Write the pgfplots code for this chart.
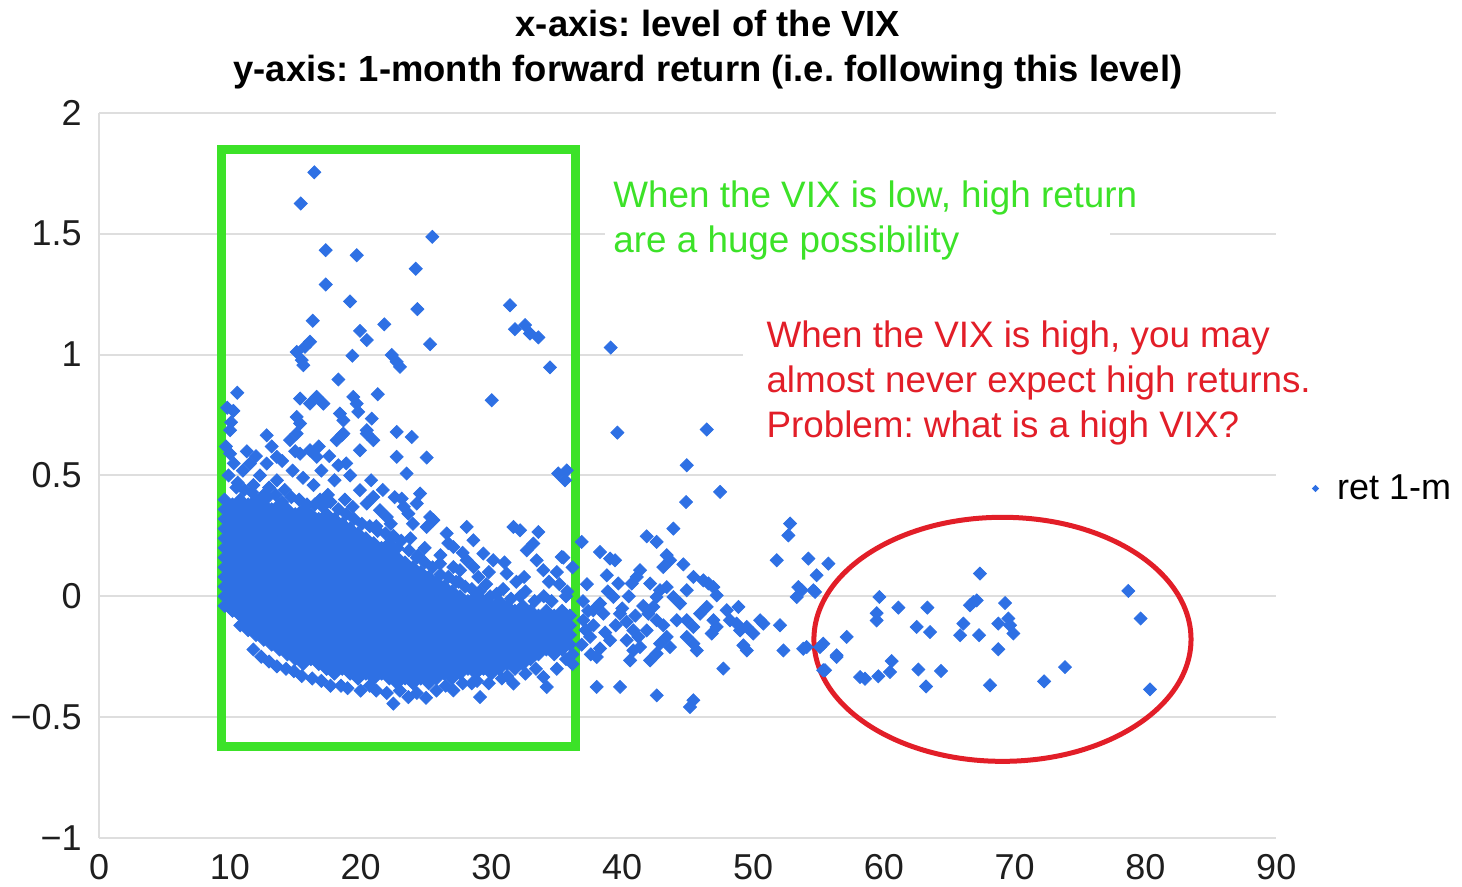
\documentclass[border=0pt]{standalone}
\usepackage{pgfplots}
\pgfplotsset{compat=1.18}
\usepackage{fontspec}
\setmainfont{Liberation Sans}
\frenchspacing
\definecolor{vixblue}{RGB}{46,112,228}
\definecolor{vixgreen}{RGB}{60,226,40}
\definecolor{vixred}{RGB}{226,30,40}
\definecolor{gridgray}{RGB}{222,222,222}
\definecolor{ticktext}{RGB}{30,30,30}
\begin{document}
\begin{tikzpicture}
\begin{axis}[
  scale only axis, width=588.5bp, height=362.5bp,
  xmin=0, xmax=90, ymin=-1, ymax=2,
  axis x line*=bottom, axis y line*=left,
  axis line style={draw=gridgray, line width=1bp, -},
  xtick={0,10,20,30,40,50,60,70,80,90},
  xticklabels={0,10,20,30,40,50,60,70,80,90},
  ytick={-1,-0.5,0,0.5,1,1.5,2},
  yticklabels={−1,−0.5,0,0.5,1,1.5,2},
  major tick length=0pt,
  ymajorgrids, grid style={draw=gridgray, line width=1bp},
  tick label style={font=\fontsize{18bp}{20bp}\selectfont, text=ticktext, inner sep=0pt},
  xticklabel style={yshift=-8bp},
  yticklabel style={xshift=-8.5bp},
  clip=false,
  legend style={at={(1.030,0.482)}, anchor=west, draw=none, fill=none,
    font=\fontsize{18bp}{20bp}\selectfont, inner sep=0pt,
    /tikz/every odd column/.append style={column sep=7bp}},
  legend image code/.code={\fill[vixblue, draw=none] (0,1.8bp)--(1.8bp,0)--(0,-1.8bp)--(-1.8bp,0)--cycle;},
]
% dense cloud
\addplot[only marks, mark=square*, mark size=2.3bp, mark options={rotate=45, fill=vixblue, draw=none}, color=vixblue] coordinates {
(9.6,-0.04)(9.6,0)(9.6,0.04)(9.6,0.08)(9.6,0.12)(9.6,0.16)(9.6,0.2)(9.6,0.24)(9.6,0.28)(9.6,0.32)(9.6,0.36)(9.6,0.4)
(10.2,-0.06)(10.2,-0.02)(10.2,0.02)(10.2,0.06)(10.2,0.1)(10.2,0.14)(10.2,0.18)(10.2,0.22)(10.2,0.26)(10.2,0.3)(10.2,0.34)(10.2,0.38)
(10.8,-0.12)(10.8,-0.08)(10.8,-0.04)(10.8,0)(10.8,0.04)(10.8,0.08)(10.8,0.12)(10.8,0.16)(10.8,0.2)(10.8,0.24)(10.8,0.28)(10.8,0.32)(10.8,0.36)(10.8,0.4)
(11.4,-0.14)(11.4,-0.1)(11.4,-0.06)(11.4,-0.02)(11.4,0.02)(11.4,0.06)(11.4,0.1)(11.4,0.14)(11.4,0.18)(11.4,0.22)(11.4,0.26)(11.4,0.3)(11.4,0.34)(11.4,0.38)
(12.0,-0.16)(12.0,-0.12)(12.0,-0.08)(12.0,-0.04)(12.0,0)(12.0,0.04)(12.0,0.08)(12.0,0.12)(12.0,0.16)(12.0,0.2)(12.0,0.24)(12.0,0.28)(12.0,0.32)(12.0,0.36)(12.0,0.4)
(12.6,-0.18)(12.6,-0.14)(12.6,-0.1)(12.6,-0.06)(12.6,-0.02)(12.6,0.02)(12.6,0.06)(12.6,0.1)(12.6,0.14)(12.6,0.18)(12.6,0.22)(12.6,0.26)(12.6,0.3)(12.6,0.34)(12.6,0.38)
(13.2,-0.2)(13.2,-0.16)(13.2,-0.12)(13.2,-0.08)(13.2,-0.04)(13.2,0)(13.2,0.04)(13.2,0.08)(13.2,0.12)(13.2,0.16)(13.2,0.2)(13.2,0.24)(13.2,0.28)(13.2,0.32)(13.2,0.36)
(13.8,-0.22)(13.8,-0.18)(13.8,-0.14)(13.8,-0.1)(13.8,-0.06)(13.8,-0.02)(13.8,0.02)(13.8,0.06)(13.8,0.1)(13.8,0.14)(13.8,0.18)(13.8,0.22)(13.8,0.26)(13.8,0.3)(13.8,0.34)(13.8,0.38)
(14.4,-0.24)(14.4,-0.2)(14.4,-0.16)(14.4,-0.12)(14.4,-0.08)(14.4,-0.04)(14.4,0)(14.4,0.04)(14.4,0.08)(14.4,0.12)(14.4,0.16)(14.4,0.2)(14.4,0.24)(14.4,0.28)(14.4,0.32)(14.4,0.36)
(15.0,-0.26)(15.0,-0.22)(15.0,-0.18)(15.0,-0.14)(15.0,-0.1)(15.0,-0.06)(15.0,-0.02)(15.0,0.02)(15.0,0.06)(15.0,0.1)(15.0,0.14)(15.0,0.18)(15.0,0.22)(15.0,0.26)(15.0,0.3)(15.0,0.34)
(15.6,-0.28)(15.6,-0.24)(15.6,-0.2)(15.6,-0.16)(15.6,-0.12)(15.6,-0.08)(15.6,-0.04)(15.6,0)(15.6,0.04)(15.6,0.08)(15.6,0.12)(15.6,0.16)(15.6,0.2)(15.6,0.24)(15.6,0.28)(15.6,0.32)(15.6,0.36)
(16.2,-0.26)(16.2,-0.22)(16.2,-0.18)(16.2,-0.14)(16.2,-0.1)(16.2,-0.06)(16.2,-0.02)(16.2,0.02)(16.2,0.06)(16.2,0.1)(16.2,0.14)(16.2,0.18)(16.2,0.22)(16.2,0.26)(16.2,0.3)(16.2,0.34)
(16.8,-0.28)(16.8,-0.24)(16.8,-0.2)(16.8,-0.16)(16.8,-0.12)(16.8,-0.08)(16.8,-0.04)(16.8,0)(16.8,0.04)(16.8,0.08)(16.8,0.12)(16.8,0.16)(16.8,0.2)(16.8,0.24)(16.8,0.28)(16.8,0.32)
(17.4,-0.3)(17.4,-0.26)(17.4,-0.22)(17.4,-0.18)(17.4,-0.14)(17.4,-0.1)(17.4,-0.06)(17.4,-0.02)(17.4,0.02)(17.4,0.06)(17.4,0.1)(17.4,0.14)(17.4,0.18)(17.4,0.22)(17.4,0.26)(17.4,0.3)(17.4,0.34)
(18.0,-0.32)(18.0,-0.28)(18.0,-0.24)(18.0,-0.2)(18.0,-0.16)(18.0,-0.12)(18.0,-0.08)(18.0,-0.04)(18.0,0)(18.0,0.04)(18.0,0.08)(18.0,0.12)(18.0,0.16)(18.0,0.2)(18.0,0.24)(18.0,0.28)(18.0,0.32)
(18.6,-0.3)(18.6,-0.26)(18.6,-0.22)(18.6,-0.18)(18.6,-0.14)(18.6,-0.1)(18.6,-0.06)(18.6,-0.02)(18.6,0.02)(18.6,0.06)(18.6,0.1)(18.6,0.14)(18.6,0.18)(18.6,0.22)(18.6,0.26)(18.6,0.3)
(19.2,-0.32)(19.2,-0.28)(19.2,-0.24)(19.2,-0.2)(19.2,-0.16)(19.2,-0.12)(19.2,-0.08)(19.2,-0.04)(19.2,0)(19.2,0.04)(19.2,0.08)(19.2,0.12)(19.2,0.16)(19.2,0.2)(19.2,0.24)(19.2,0.28)
(19.8,-0.34)(19.8,-0.3)(19.8,-0.26)(19.8,-0.22)(19.8,-0.18)(19.8,-0.14)(19.8,-0.1)(19.8,-0.06)(19.8,-0.02)(19.8,0.02)(19.8,0.06)(19.8,0.1)(19.8,0.14)(19.8,0.18)(19.8,0.22)(19.8,0.26)
(20.4,-0.32)(20.4,-0.28)(20.4,-0.24)(20.4,-0.2)(20.4,-0.16)(20.4,-0.12)(20.4,-0.08)(20.4,-0.04)(20.4,0)(20.4,0.04)(20.4,0.08)(20.4,0.12)(20.4,0.16)(20.4,0.2)(20.4,0.24)
(21.0,-0.34)(21.0,-0.3)(21.0,-0.26)(21.0,-0.22)(21.0,-0.18)(21.0,-0.14)(21.0,-0.1)(21.0,-0.06)(21.0,-0.02)(21.0,0.02)(21.0,0.06)(21.0,0.1)(21.0,0.14)(21.0,0.18)(21.0,0.22)
(21.6,-0.32)(21.6,-0.28)(21.6,-0.24)(21.6,-0.2)(21.6,-0.16)(21.6,-0.12)(21.6,-0.08)(21.6,-0.04)(21.6,0)(21.6,0.04)(21.6,0.08)(21.6,0.12)(21.6,0.16)(21.6,0.2)
(22.2,-0.34)(22.2,-0.3)(22.2,-0.26)(22.2,-0.22)(22.2,-0.18)(22.2,-0.14)(22.2,-0.1)(22.2,-0.06)(22.2,-0.02)(22.2,0.02)(22.2,0.06)(22.2,0.1)(22.2,0.14)(22.2,0.18)(22.2,0.22)
(22.8,-0.36)(22.8,-0.32)(22.8,-0.28)(22.8,-0.24)(22.8,-0.2)(22.8,-0.16)(22.8,-0.12)(22.8,-0.08)(22.8,-0.04)(22.8,0)(22.8,0.04)(22.8,0.08)(22.8,0.12)(22.8,0.16)(22.8,0.2)
(23.4,-0.34)(23.4,-0.3)(23.4,-0.26)(23.4,-0.22)(23.4,-0.18)(23.4,-0.14)(23.4,-0.1)(23.4,-0.06)(23.4,-0.02)(23.4,0.02)(23.4,0.06)(23.4,0.1)(23.4,0.14)
(24.0,-0.36)(24.0,-0.32)(24.0,-0.28)(24.0,-0.24)(24.0,-0.2)(24.0,-0.16)(24.0,-0.12)(24.0,-0.08)(24.0,-0.04)(24.0,0)(24.0,0.04)(24.0,0.08)(24.0,0.12)
(24.6,-0.34)(24.6,-0.3)(24.6,-0.26)(24.6,-0.22)(24.6,-0.18)(24.6,-0.14)(24.6,-0.1)(24.6,-0.06)(24.6,-0.02)(24.6,0.02)(24.6,0.06)(24.6,0.1)
(25.2,-0.36)(25.2,-0.32)(25.2,-0.28)(25.2,-0.24)(25.2,-0.2)(25.2,-0.16)(25.2,-0.12)(25.2,-0.08)(25.2,-0.04)(25.2,0)(25.2,0.04)(25.2,0.08)
(25.8,-0.34)(25.8,-0.3)(25.8,-0.26)(25.8,-0.22)(25.8,-0.18)(25.8,-0.14)(25.8,-0.1)(25.8,-0.06)(25.8,-0.02)(25.8,0.02)(25.8,0.06)
(26.4,-0.32)(26.4,-0.28)(26.4,-0.24)(26.4,-0.2)(26.4,-0.16)(26.4,-0.12)(26.4,-0.08)(26.4,-0.04)(26.4,0)(26.4,0.04)
(27.0,-0.34)(27.0,-0.3)(27.0,-0.26)(27.0,-0.22)(27.0,-0.18)(27.0,-0.14)(27.0,-0.1)(27.0,-0.06)(27.0,-0.02)(27.0,0.02)
(27.6,-0.32)(27.6,-0.28)(27.6,-0.24)(27.6,-0.2)(27.6,-0.16)(27.6,-0.12)(27.6,-0.08)(27.6,-0.04)(27.6,0)
(28.2,-0.3)(28.2,-0.26)(28.2,-0.22)(28.2,-0.18)(28.2,-0.14)(28.2,-0.1)(28.2,-0.06)(28.2,-0.02)
(28.8,-0.32)(28.8,-0.28)(28.8,-0.24)(28.8,-0.2)(28.8,-0.16)(28.8,-0.12)(28.8,-0.08)(28.8,-0.04)(28.8,0)
(29.4,-0.3)(29.4,-0.26)(29.4,-0.22)(29.4,-0.18)(29.4,-0.14)(29.4,-0.1)(29.4,-0.06)(29.4,-0.02)
(30.0,-0.32)(30.0,-0.28)(30.0,-0.24)(30.0,-0.2)(30.0,-0.16)(30.0,-0.12)(30.0,-0.08)(30.0,-0.04)
(30.6,-0.3)(30.6,-0.26)(30.6,-0.22)(30.6,-0.18)(30.6,-0.14)(30.6,-0.1)(30.6,-0.06)(30.6,-0.02)
(31.2,-0.28)(31.2,-0.24)(31.2,-0.2)(31.2,-0.16)(31.2,-0.12)(31.2,-0.08)(31.2,-0.04)
(31.8,-0.3)(31.8,-0.26)(31.8,-0.22)(31.8,-0.18)(31.8,-0.14)(31.8,-0.1)(31.8,-0.06)
(32.4,-0.28)(32.4,-0.24)(32.4,-0.2)(32.4,-0.16)(32.4,-0.12)(32.4,-0.08)(32.4,-0.04)
(33.0,-0.26)(33.0,-0.22)(33.0,-0.18)(33.0,-0.14)(33.0,-0.1)(33.0,-0.06)
(33.6,-0.24)(33.6,-0.2)(33.6,-0.16)(33.6,-0.12)(33.6,-0.08)
(34.2,-0.22)(34.2,-0.18)(34.2,-0.14)(34.2,-0.1)(34.2,-0.06)
(34.8,-0.24)(34.8,-0.2)(34.8,-0.16)(34.8,-0.12)(34.8,-0.08)
(35.4,-0.22)(35.4,-0.18)(35.4,-0.14)(35.4,-0.1)(35.4,-0.06)
(36.0,-0.2)(36.0,-0.16)(36.0,-0.12)(36.0,-0.08)
};
\addlegendentry{ret 1-m}
% scattered points
\addplot[only marks, mark=square*, mark size=2.3bp, mark options={rotate=45, fill=vixblue, draw=none}, color=vixblue, forget plot] coordinates {
(16.46,1.754)(15.42,1.625)(25.48,1.487)(17.33,1.432)(19.70,1.411)(24.21,1.355)(17.33,1.290)(19.19,1.220)(24.34,1.188)(31.42,1.204)
(16.34,1.140)(21.81,1.125)(19.95,1.098)(20.47,1.060)(31.8,1.105)(32.57,1.122)(32.95,1.087)(33.59,1.071)(25.31,1.043)(16.13,1.053)
(15.75,1.032)(15.11,1.011)(15.50,0.977)(15.62,0.956)(19.37,0.995)(22.38,0.998)(22.76,0.970)(23.01,0.949)(34.48,0.947)(18.30,0.897)
(10.57,0.842)(10.27,0.767)(21.31,0.836)(30.02,0.811)(15.37,0.818)(16.13,0.797)(16.64,0.825)(17.15,0.797)(15.11,0.742)(15.37,0.715)
(18.42,0.756)(18.68,0.728)(19.44,0.825)(19.70,0.797)(19.82,0.763)(20.85,0.735)(12.82,0.666)(22.76,0.680)(23.91,0.659)(18.55,0.666)(20.47,0.673)
(22.76,0.577)(25.05,0.574)(23.52,0.508)(18.30,0.542)(35.11,0.508)(35.63,0.480)(35.76,0.521)(23.14,0.404)(24.54,0.425)(24.29,0.384)
(23.65,0.342)(25.31,0.328)(25.56,0.315)(25.05,0.287)(28.11,0.287)(28.62,0.232)(26.58,0.260)(27.09,0.204)(31.68,0.287)(32.19,0.273)
(33.59,0.266)(33.20,0.218)(32.70,0.190)(35.37,0.163)(33.97,0.108)(33.46,0.149)(31.17,0.094)(30.14,0.149)(29.38,0.177)(28.11,0.149)
(28.62,0.121)(27.60,0.108)(27.09,0.121)(26.07,0.135)(22.0,0.328)(21.48,0.356)(20.47,0.384)(19.95,0.439)(20.97,0.411)(18.17,0.646)
(18.68,0.673)(20.47,0.687)(20.97,0.646)(19.95,0.604)(14.60,0.646)(15.11,0.673)(15.37,0.590)(16.13,0.604)(16.64,0.577)(10.02,0.687)
(10.02,0.590)(11.54,0.549)(12.82,0.549)(13.59,0.577)
(9.8,0.78)(10.1,0.72)(9.7,0.62)(10.3,0.55)(9.9,0.5)(10.6,0.47)(11.0,0.52)(11.8,0.46)(12.3,0.5)(13.0,0.45)(13.6,0.48)(14.2,0.44)
(14.8,0.52)(15.6,0.49)(16.4,0.46)(17.0,0.52)(17.5,0.42)(18.0,0.48)(18.8,0.4)(19.4,0.37)(16.9,0.4)(15.9,0.38)(14.0,0.39)(12.6,0.42)
(10.5,0.45)(11.1,0.44)(11.7,0.43)(12.9,0.41)(13.5,0.42)(14.7,0.41)(15.3,0.4)(16.5,0.38)(17.1,0.37)(17.7,0.39)(18.3,0.36)(18.9,0.34)
(19.5,0.32)(20.1,0.3)(20.7,0.29)(21.3,0.27)(21.9,0.26)(22.5,0.25)(23.1,0.23)(23.7,0.19)(24.3,0.16)(24.9,0.14)(25.5,0.12)(26.1,0.09)
(26.7,0.08)(27.3,0.06)(28.0,0.04)(28.5,0.03)(29.1,0.02)(29.9,0.0)(30.4,0.01)(31.5,-0.01)(32.2,0.0)(33.3,-0.02)(34.6,-0.02)(35.7,0.0)
(11.3,0.6)(12.0,0.58)(13.2,0.62)(14.0,0.56)(15.0,0.6)(16.8,0.62)(17.6,0.58)(18.9,0.55)(19.2,0.5)(20.8,0.48)(21.7,0.44)(22.6,0.41)
(23.3,0.37)(24.0,0.3)(26.7,0.22)(27.8,0.18)(29.8,0.1)(31.0,0.14)(32.5,0.08)(34.4,0.06)(35.0,0.1)
(11.8,-0.22)(12.4,-0.25)(13.6,-0.29)(14.3,-0.3)(15.5,-0.33)(16.3,-0.34)(17.7,-0.37)(18.5,-0.37)(20.0,-0.39)(20.7,-0.37)(22.0,-0.4)
(23.0,-0.39)(24.3,-0.4)(25.0,-0.42)(26.5,-0.37)(27.8,-0.36)(28.9,-0.35)(29.8,-0.36)(31.2,-0.33)(32.6,-0.32)(33.4,-0.3)(35.7,-0.26)(36.2,-0.24)
(22.5,-0.444)(23.65,-0.417)(29.13,-0.417)(27.09,-0.389)(31.68,-0.361)(34.23,-0.375)(33.97,-0.334)
(19.0,-0.38)(21.2,-0.39)(25.8,-0.39)(28.5,-0.36)(35.0,-0.30)(36.2,-0.28)(30.8,-0.34)(13.0,-0.27)(14.9,-0.31)(17.0,-0.35)
(29.6,0.05)(30.9,0.03)(32.6,0.02)(34.0,0.0)(35.8,0.02)(27.5,0.06)(24.9,0.2)(23.8,0.24)(26.1,0.17)(22.3,0.3)(21.2,0.29)(24.4,0.17)
(35.2,0.05)(36.2,0.12)(31.9,0.06)(29.0,0.08)
(39.12,1.029)(39.63,0.677)(46.46,0.690)(44.93,0.542)(47.48,0.432)(44.88,0.390)(43.91,0.280)(41.87,0.248)(42.63,0.225)(36.9,0.225)
(35.5,0.160)(38.30,0.183)(39.07,0.156)(39.45,0.149)(43.40,0.170)(43.65,0.149)(43.14,0.121)(44.67,0.132)(41.36,0.108)(41.11,0.080)
(40.73,0.053)(38.82,0.087)(39.70,0.053)(39.32,-0.003)(45.44,0.080)(46.20,0.066)(46.59,0.053)(46.97,0.038)(47.22,0.004)(42.13,0.053)
(42.89,0.025)(43.40,0.038)(43.91,-0.003)(44.42,-0.030)(44.93,0.025)(42.63,-0.003)(42.38,-0.044)(42.0,-0.072)(42.63,-0.099)(43.14,-0.120)
(41.87,-0.141)(37.79,-0.058)(38.56,-0.072)(39.83,-0.072)(40.34,-0.106)(40.85,-0.141)(41.23,-0.168)(41.36,-0.210)(37.03,-0.099)(37.54,-0.168)
(38.30,-0.216)(38.05,-0.251)(39.07,-0.182)(40.34,-0.182)(40.85,-0.224)(40.60,-0.265)(42.13,-0.265)(42.63,-0.237)(42.89,-0.196)(43.40,-0.168)
(44.93,-0.168)(45.44,-0.196)(45.70,-0.224)(43.65,-0.210)(44.17,-0.099)(44.93,-0.099)(45.44,-0.127)(45.95,-0.072)(46.46,-0.044)(46.97,-0.099)
(46.84,-0.154)(47.22,-0.127)(47.99,-0.058)(48.24,-0.099)(48.75,-0.113)(49.01,-0.141)(49.52,-0.127)(50.02,-0.154)(50.54,-0.099)(50.79,-0.113)
(48.88,-0.044)(49.26,-0.203)(47.73,-0.299)(49.52,-0.224)(38.05,-0.375)(39.83,-0.375)(42.64,-0.410)(45.44,-0.430)(45.18,-0.458)
(51.81,0.149)(52.83,0.301)(52.70,0.252)(54.23,0.156)(55.76,0.135)(54.86,0.087)(53.46,0.038)(53.34,-0.003)(54.74,0.018)(52.06,-0.120)
(52.32,-0.224)(53.84,-0.217)(55.37,-0.196)(56.39,-0.251)(57.16,-0.168)(55.37,-0.306)
(37.0,-0.02)(37.4,-0.06)(37.2,-0.14)(37.8,-0.12)(38.3,-0.03)(36.9,-0.2)(37.6,-0.24)(38.7,-0.15)(39.5,-0.12)(40.0,-0.05)(40.5,0.0)
(41.6,-0.04)(41.0,-0.08)(38.9,0.02)(37.3,0.05)
(54.61,0.025)(53.72,0.025)(67.35,0.094)(78.69,0.022)(59.66,-0.003)(59.45,-0.07)(59.45,-0.10)(61.11,-0.047)(63.33,-0.047)(66.59,-0.037)
(67.10,-0.017)(66.84,-0.024)(69.27,-0.028)(62.51,-0.127)(63.53,-0.148)(66.08,-0.113)(65.83,-0.161)(67.28,-0.161)(68.75,-0.113)(69.52,-0.092)
(69.65,-0.120)(69.90,-0.154)(68.75,-0.219)(79.63,-0.092)(56.39,-0.244)(55.12,-0.210)(54.1,-0.210)(55.5,-0.306)(58.18,-0.334)(58.56,-0.341)
(59.58,-0.331)(60.47,-0.313)(60.60,-0.268)(62.64,-0.303)(63.23,-0.373)(64.37,-0.309)(68.12,-0.368)(72.25,-0.352)(73.85,-0.293)(80.35,-0.385)
};
% annotations
\draw[vixgreen, line width=4.5bp] (axis cs:9.35,1.848) rectangle (axis cs:36.43,-0.621);
\draw[vixred, line width=2.5bp] (axis cs:69.07,-0.178) ellipse [x radius=94.25bp, y radius=61bp];
\fill[white] (axis cs:38.7,1.74) rectangle (axis cs:77.3,1.38);
\fill[white] (axis cs:49.2,1.163) rectangle (axis cs:95,0.625);
\node[anchor=west, align=left, text=vixgreen, font=\fontsize{18.4bp}{22.5bp}\selectfont, inner sep=0pt]
  at (axis cs:39.3,1.555) {When the VIX is low, high return\\are a huge possibility};
\node[anchor=west, align=left, text=vixred, font=\fontsize{18.4bp}{22.5bp}\selectfont, inner sep=0pt]
  at (axis cs:51.0,0.882) {When the VIX is high, you may\\almost never expect high returns.\\Problem: what is a high VIX?};
\node[align=center, font=\bfseries\fontsize{18.2bp}{22.5bp}\selectfont, inner sep=0pt]
  at (axis cs:46.55,2.262) {x-axis: level of the VIX\\y-axis: 1-month forward return (i.e. following this level)};
\coordinate (bbl) at (axis cs:-7.57,-1.2003);
\coordinate (btr) at (axis cs:104.2,2.4669);
\end{axis}
\pgfresetboundingbox
\useasboundingbox (bbl) rectangle (btr);
\end{tikzpicture}
\end{document}
